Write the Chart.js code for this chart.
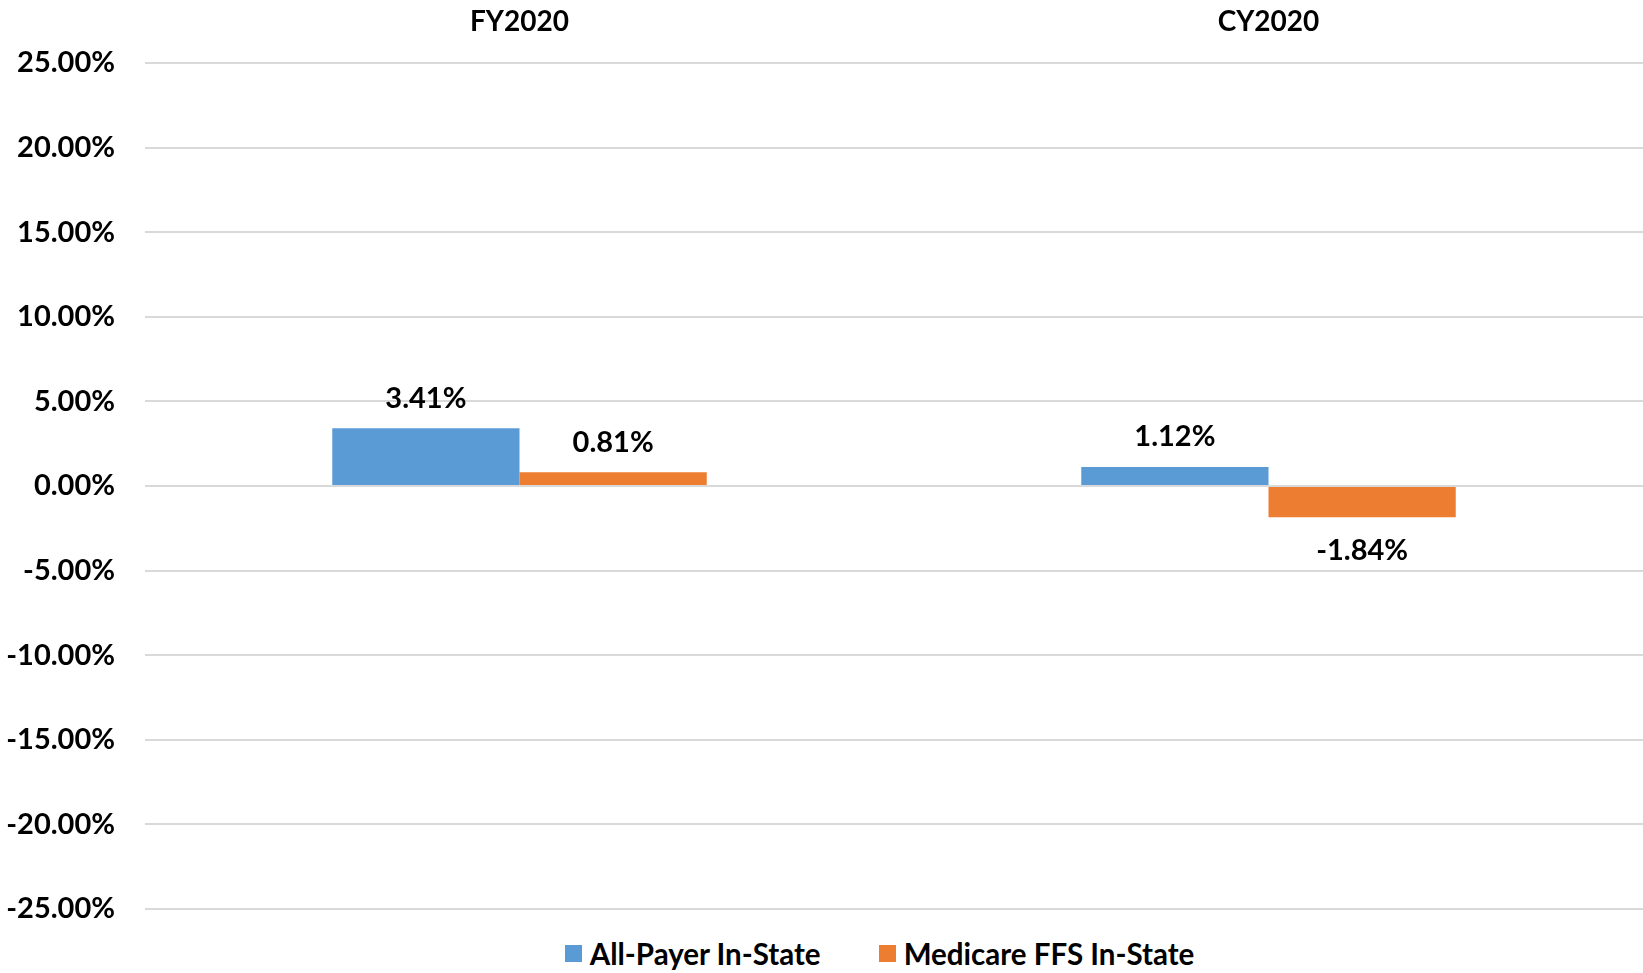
<!DOCTYPE html>
<html lang="en">
<head>
  <meta charset="UTF-8">
  <title>FY2020 / CY2020 In-State</title>
  <style>
    html, body { margin: 0; padding: 0; background: #fff; }
    .chart-box { width: 1643px; height: 927px; position: relative; }
    .leyenda { width: 1643px; height: 46px; box-sizing: border-box; padding: 6px 0 0 116px;
               display: flex; justify-content: center; align-items: center; gap: 58px;
               font-family: Lato, 'Open Sans', Arial, sans-serif; font-weight: bold; font-size: 29.5px; color: #000; }
    .leyenda span { display: flex; align-items: center; }
    .leyenda i { display: inline-block; width: 17px; height: 17px; margin-right: 8px; }
  </style>
</head>
<body>
  <div class="chart-box">
    <canvas id="chart"></canvas>
  </div>
  <div class="leyenda" id="leyenda"></div>
  <script src="https://cdn.jsdelivr.net/npm/chart.js"></script>
  <script>
    // datos
    const periodos = ['FY2020', 'CY2020'];
    const allPayer = [3.41, 1.12];
    const medicareFFS = [0.81, -1.84];
    const serieNombres = ['All-Payer In-State', 'Medicare FFS In-State'];
    const colores = ['#5B9BD5', '#ED7D31'];
    const yTicks = [25, 20, 15, 10, 5, 0, -5, -10, -15, -20, -25];

    const fuente = "Lato, 'Open Sans', Arial, sans-serif";

    // etiquetas de valores sobre / bajo las barras
    const etiquetas = {
      id: 'etiquetas',
      afterDatasetsDraw(chart) {
        const ctx = chart.ctx;
        ctx.save();
        ctx.font = 'bold 29px ' + fuente;
        ctx.fillStyle = '#000';
        ctx.textAlign = 'center';
        ctx.textBaseline = 'middle';
        chart.data.datasets.forEach((ds, i) => {
          chart.getDatasetMeta(i).data.forEach((bar, j) => {
            const v = ds.data[j];
            const y = v >= 0 ? bar.y - 30 : bar.y + 34;
            ctx.fillText(v.toFixed(2) + '%', bar.x, y);
          });
        });
        ctx.restore();
      }
    };

    const grafico = new Chart(document.getElementById('chart'), {
      type: 'bar',
      data: {
        labels: periodos,
        datasets: [
          { label: serieNombres[0], data: allPayer, backgroundColor: colores[0] },
          { label: serieNombres[1], data: medicareFFS, backgroundColor: colores[1] }
        ]
      },
      options: {
        responsive: true,
        maintainAspectRatio: false,
        animation: false,
        layout: { padding: { top: 0, right: 0, left: 0, bottom: 18 } },
        datasets: { bar: { categoryPercentage: 0.5, barPercentage: 1 } },
        plugins: {
          legend: { display: false },
          tooltip: { enabled: false }
        },
        scales: {
          x: {
            position: 'top',
            afterFit: axis => { axis.height = 63; },
            grid: { display: false, drawTicks: false },
            border: { display: false },
            ticks: { color: '#000', padding: 24, font: { family: fuente, size: 28, weight: 'bold' } }
          },
          y: {
            min: yTicks[yTicks.length - 1],
            max: yTicks[0],
            afterBuildTicks: axis => { axis.ticks = yTicks.map(v => ({ value: v })); },
            afterFit: axis => { axis.width = 145; axis.paddingTop = 0; axis.paddingBottom = 0; },
            grid: { color: '#d9d9d9', lineWidth: 2, drawTicks: false },
            border: { display: false },
            ticks: {
              color: '#000', padding: 30,
              font: { family: fuente, size: 29, weight: 'bold' },
              callback: v => v.toFixed(2) + '%'
            }
          }
        }
      },
      plugins: [etiquetas]
    });

    // leyenda
    document.getElementById('leyenda').innerHTML = grafico.data.datasets
      .map(ds => '<span><i style="background:' + ds.backgroundColor + '"></i>' + ds.label + '</span>')
      .join('');
  </script>
</body>
</html>
